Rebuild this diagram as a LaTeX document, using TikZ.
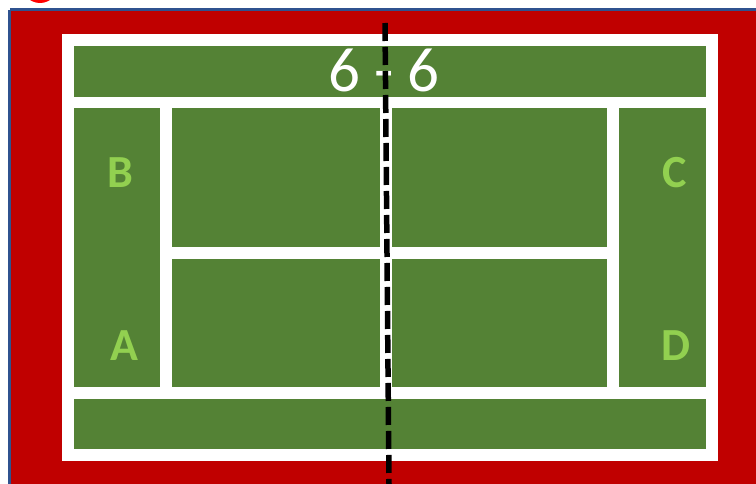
\documentclass[tikz,border=0pt]{standalone}
\usepackage{fontspec}
\setmainfont{Carlito}
\definecolor{courtred}{HTML}{C00000}
\definecolor{courtgreen}{HTML}{548235}
\definecolor{lightgreen}{HTML}{92D050}
\definecolor{framblue}{HTML}{2F528F}
\definecolor{dotred}{HTML}{FF0000}
\begin{document}
\begin{tikzpicture}[x=1pt,y=-1pt,
  whiteline/.style={fill=white},
  corner/.style={font=\fontsize{46}{46}\selectfont\bfseries, text=lightgreen, anchor=base, inner sep=0pt},
  score/.style={font=\fontsize{63}{63}\selectfont, text=white, anchor=base, inner sep=0pt},
  netline/.style={line width=5.5pt, dash pattern=on 18pt off 6pt, line cap=butt, black}]
\useasboundingbox (0,0) rectangle (756,484);
% background
\fill[white] (0,0) rectangle (756,484);
\fill[dotred] (40,-15) circle (18);
\fill[courtred] (11,11) rectangle (760,490);
\draw[framblue, line width=3pt] (9.8,9.8) -- (9.8,490);
\draw[framblue, line width=3pt] (9.8,9.8) -- (760,9.8);
% court
\fill[white] (62,34) rectangle (718,461);
\fill[courtgreen] (74,46) rectangle (706,449);
% lines
\fill[whiteline] (74,97) rectangle (706,108);
\fill[whiteline] (74,387) rectangle (706,399);
\fill[whiteline] (160,108) rectangle (172,387);
\fill[whiteline] (607,108) rectangle (619,387);
\fill[whiteline] (172,247) rectangle (607,259);
\fill[whiteline] (380,108) rectangle (392,387);
% texts
\node[score] (sc) at (384,92) {6 - 6};
\node[corner] (b) at (120,188) {B};
\node[corner] (c) at (675,188) {C};
\node[corner] (a) at (124,360.5) {A};
\node[corner] (d) at (676,360.5) {D};
% net
\coordinate (ntop) at (385,23);
\coordinate (nbot) at (389,484);
\draw[netline] (ntop) -- (nbot);
\end{tikzpicture}
\end{document}
